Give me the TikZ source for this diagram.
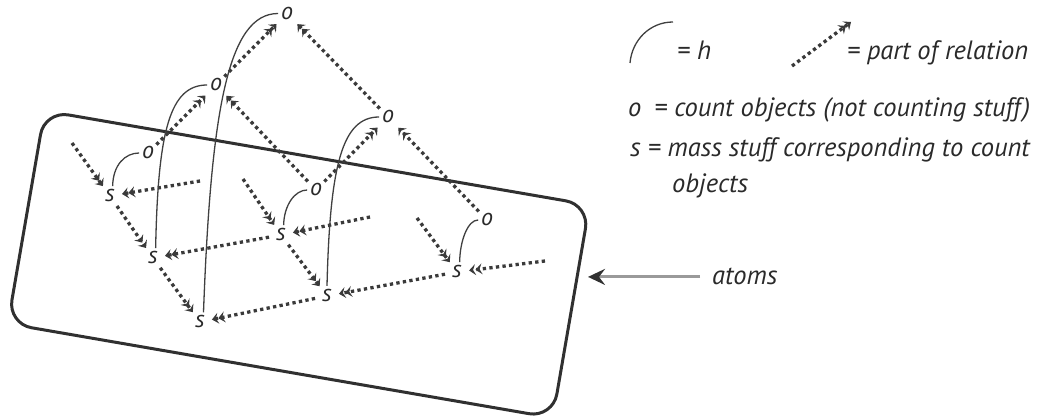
\documentclass[tikz,border=0pt]{standalone}
\usepackage{fontspec}
\setmainfont{PT Sans}
\usetikzlibrary{arrows.meta}
\definecolor{txtcol}{HTML}{2A2A2A}
\definecolor{dotcol}{HTML}{3A3A3A}
\definecolor{boxcol}{HTML}{303030}
\definecolor{hcol}{HTML}{404040}
\definecolor{graycol}{HTML}{9A9A9A}
\tikzset{
  rel/.style={draw=dotcol, line width=3.3pt, dash pattern=on 3.3pt off 3.3pt,
    -{Stealth[length=6.5pt,width=11pt,inset=2.5pt]Stealth[length=6.5pt,width=11pt,inset=2.5pt]}},
  orel/.style={rel, shorten <=3pt, shorten >=6pt},
  srel/.style={rel, shorten <=2pt, shorten >=2pt},
  stubrel/.style={rel, shorten >=2pt},
  hcurve/.style={draw=hcol, line width=1.3pt},
  onode/.style={circle, inner sep=0pt, minimum size=14pt, text=txtcol, font=\fontsize{24}{26}\selectfont\itshape},
  snode/.style={circle, inner sep=0pt, minimum size=20pt, text=txtcol, font=\fontsize{24}{26}\selectfont\itshape},
  legtext/.style={anchor=base west, inner sep=0pt, text=txtcol, font=\fontsize{26.5}{30}\selectfont\itshape},
  atomarrow/.style={draw=graycol, line width=3pt,
    -{Stealth[length=17pt,width=16pt,inset=6pt,color=boxcol]}}
}
\begin{document}
\begin{tikzpicture}[x=1pt,y=-1pt]
\useasboundingbox (0,0) rectangle (1047,419);
% box of atoms
\node[draw=boxcol, line width=3pt, rounded corners=24pt, minimum width=553pt,
      minimum height=216pt, rotate=-9.8, inner sep=0pt] (box) at (298.7,264.3) {};
% o nodes
\node[onode] (oT) at (287,13.5) {o};
\node[onode] (oM) at (216,85) {o};
\node[onode] (oL) at (148,153) {o};
\node[onode] (oU) at (388,117) {o};
\node[onode] (oC) at (316,190) {o};
\node[onode] (oR) at (487,220) {o};
% s nodes
\node[snode] (s1) at (110,196) {s};
\node[snode] (s2) at (153,258) {s};
\node[snode] (s3) at (200,322) {s};
\node[snode] (s4) at (281,235) {s};
\node[snode] (s5) at (327,296) {s};
\node[snode] (s6) at (457,272) {s};
% free ends
\coordinate (a1) at (72,143);
\coordinate (b1) at (200,181);
\coordinate (a4) at (243,179);
\coordinate (b4) at (370,217);
\coordinate (a6) at (417,218);
\coordinate (b6) at (545,261);
% part-of relations among o
\draw[orel] (oL) -- (oM);
\draw[orel] (oC) -- (oM);
\draw[orel] (oC) -- (oU);
\draw[orel] (oR) -- (oU);
\draw[orel] (oM) -- (oT);
\draw[orel] (oU) -- (oT);
% part-of relations among s
\draw[stubrel] (a1) -- (s1);
\draw[stubrel] (b1) -- (s1);
\draw[stubrel] (a4) -- (s4);
\draw[stubrel] (b4) -- (s4);
\draw[stubrel] (a6) -- (s6);
\draw[stubrel] (b6) -- (s6);
\draw[srel] (s1) -- (s2);
\draw[srel] (s4) -- (s2);
\draw[srel] (s4) -- (s5);
\draw[srel] (s6) -- (s5);
\draw[srel] (s2) -- (s3);
\draw[srel] (s5) -- (s3);
% h curves
\draw[hcurve] (s1.75) .. controls (113,165) and (125,153) .. (oL.west);
\draw[hcurve] (s4.75) .. controls (284,205) and (295,190) .. (oC.west);
\draw[hcurve] (s6.75) .. controls (460,240) and (468,220) .. (oR.west);
\draw[hcurve] (s2.75) .. controls (158,130) and (170,85) .. (oM.west);
\draw[hcurve] (s3.70) .. controls (211,110) and (228,13.5) .. (oT.west);
\draw[hcurve] (s5.90) .. controls (330,165) and (342,117) .. (oU.west);
% atoms label
\node[legtext] (atomslbl) at (712,285) {atoms};
\coordinate (atomtip) at (588,278);
\draw[atomarrow, shorten <=12pt] (atomslbl.west) -- (atomslbl.west -| atomtip);
% legend
\coordinate (legA) at (630,63);
\coordinate (legB) at (673,22);
\draw[hcurve] (legA) .. controls (632,40) and (650,22) .. (legB);
\node[legtext] (legh) at (677,60) {= h};
\coordinate (legC) at (792,66);
\coordinate (legD) at (851,22);
\draw[rel] (legC) -- (legD);
\node[legtext] (legrel) at (847,60) {= part of relation};
\node[legtext] (lego) at (628,117) {o\hspace{6pt} = count objects (not counting stuff)};
\node[legtext] (legs) at (630,157) {s = mass stuff corresponding to count};
\node[legtext] (legs2) at (672,193) {objects};
\end{tikzpicture}
\end{document}
